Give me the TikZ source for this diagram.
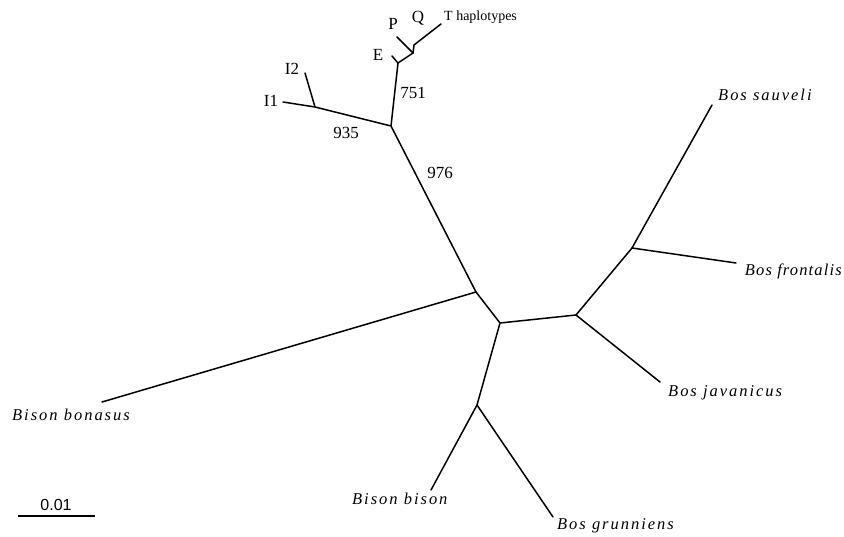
\documentclass[tikz,border=0pt]{standalone}
\usepackage{fontspec}
\setmainfont{Liberation Serif}
\newfontfamily\spit[LetterSpace=12]{Liberation Serif}
\newfontfamily\spitn[LetterSpace=7]{Liberation Serif}
\newfontfamily\arial{Liberation Sans}
\begin{document}
\begin{tikzpicture}[x=1pt,y=-1pt,
  br/.style={line width=1.5pt,line cap=round},
  taxon/.style={inner sep=0pt,font=\spit\itshape\fontsize{16.5}{18}\selectfont},
  taxonn/.style={inner sep=0pt,font=\spitn\itshape\fontsize{16.5}{18}\selectfont},
  lbl/.style={inner sep=0pt,font=\fontsize{17}{19}\selectfont},
  sm/.style={inner sep=0pt,font=\fontsize{14}{16}\selectfont}]
\useasboundingbox (0,0) rectangle (844,537);
% internal nodes
\coordinate (A) at (391,126);
\coordinate (Ii) at (315,107);
\coordinate (Ee) at (398,63);
\coordinate (Pj) at (413,53);
\coordinate (Qj) at (414,45);
\coordinate (B) at (476,292);
\coordinate (C) at (500,323);
\coordinate (D) at (576,315);
\coordinate (F) at (477,405);
\coordinate (G) at (632,248);
% tips
\coordinate (tI1) at (283,102);
\coordinate (tI2) at (305,73);
\coordinate (tE) at (392,56);
\coordinate (tP) at (397,37);
\coordinate (tT) at (441,24);
\coordinate (tBb) at (102,402);
\coordinate (tBbi) at (431,490);
\coordinate (tBg) at (553,517);
\coordinate (tBj) at (660,382);
\coordinate (tBs) at (712,105);
\coordinate (tBf) at (736,263);
% branches
\draw[br] (tI1) -- (Ii) -- (A) -- (B) -- (tBb);
\draw[br] (tI2) -- (Ii);
\draw[br] (A) -- (Ee) -- (tE);
\draw[br] (Ee) -- (Pj) -- (tP);
\draw[br] (Pj) -- (Qj) -- (tT);
\draw[br] (B) -- (C) -- (D) -- (G) -- (tBs);
\draw[br] (G) -- (tBf);
\draw[br] (D) -- (tBj);
\draw[br] (C) -- (F) -- (tBbi);
\draw[br] (F) -- (tBg);
% labels
\node[lbl] (lI1) at (271,101) {I1};
\node[lbl] (lI2) at (292,69) {I2};
\node[lbl] (lE) at (378,55) {E};
\node[lbl] (lP) at (393,24) {P};
\node[lbl] (lQ) at (418,18) {Q};
\node[sm,anchor=west] (lT) at (444,17) {T haplotypes};
\node[lbl] (l751) at (413,93) {751};
\node[lbl] (l935) at (346,133) {935};
\node[lbl] (l976) at (440,173) {976};
\node[taxon,anchor=west] (nBs) at (718,95) {Bos sauveli};
\node[taxonn,anchor=east] (nBf) at (842,271) {Bos frontalis};
\node[taxon,anchor=west] (nBj) at (668,393) {Bos javanicus};
\node[taxon,anchor=west] (nBb) at (12,415) {Bison bonasus};
\node[taxon,anchor=west] (nBbi) at (352,499) {Bison bison};
\node[taxon,anchor=west] (nBg) at (557,526) {Bos grunniens};
% scale bar
\coordinate (s1) at (18,516);
\coordinate (s2) at (95,516);
\draw[line width=1.5pt] (s1) -- (s2);
\node[inner sep=0pt,font=\arial\fontsize{16}{18}\selectfont] (sc) at (56,505) {0.01};
\end{tikzpicture}
\end{document}
